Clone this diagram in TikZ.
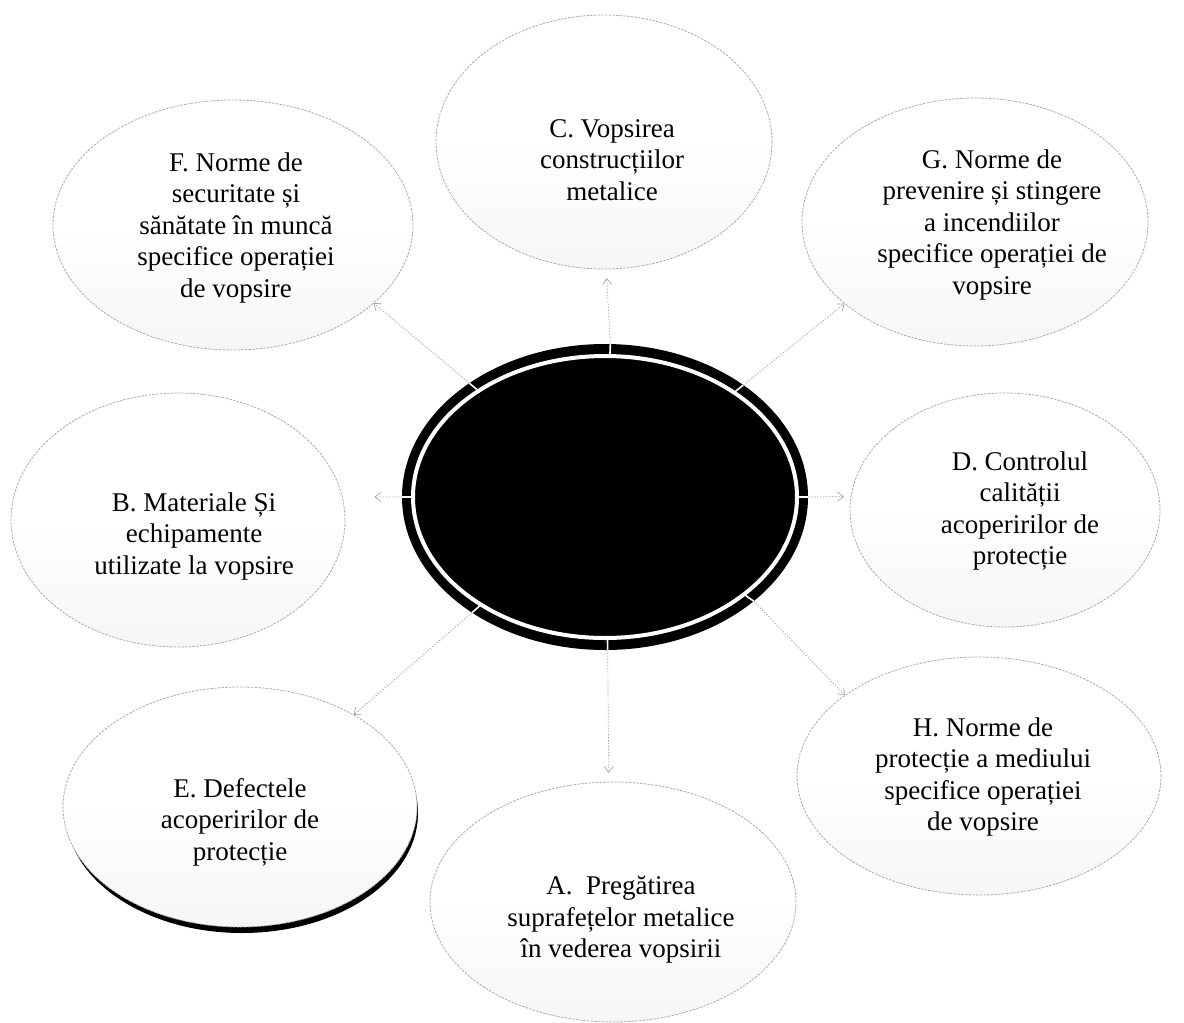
\documentclass[tikz,border=0pt]{standalone}
\usepackage{fontspec}
\setmainfont{Liberation Serif}
\usetikzlibrary{arrows.meta,calc,shapes.geometric}
\begin{document}
\begin{tikzpicture}[x=1pt,y=-1pt,
  bub/.style={ellipse, draw=gray!65, line width=0.8pt, dash pattern=on 2.5pt off 1.2pt,
    inner sep=0pt, outer sep=0pt, top color=white, bottom color=gray!7, middle color=white},
  lbl/.style={align=center, font=\fontsize{27}{31.5}\selectfont, inner sep=0pt},
  conn/.style={draw=gray!70, line width=0.7pt, dash pattern=on 1.5pt off 1.5pt,
    -{Straight Barb[length=6pt,width=9pt]}},
  tickw/.style={white, line width=1.6pt}]
\useasboundingbox (0,0) rectangle (1184,1023);
% shadow crescent of E
\fill[black] (242,813) ellipse [x radius=176, y radius=120];
% outer bubbles
\node[bub, minimum width=360pt, minimum height=250pt] (F) at (233,225) {};
\node[bub, minimum width=336pt, minimum height=254pt] (C) at (604,142) {};
\node[bub, minimum width=346pt, minimum height=248pt] (G) at (975,222) {};
\node[bub, minimum width=334pt, minimum height=254pt] (B) at (178,520) {};
\node[bub, minimum width=310pt, minimum height=234pt] (D) at (1005,510) {};
\node[bub, minimum width=354pt, minimum height=240pt] (E) at (240,807) {};
\node[bub, minimum width=364pt, minimum height=238pt] (H) at (979,776) {};
\node[bub, minimum width=366pt, minimum height=240pt] (A) at (613,902) {};
% labels
\node[lbl] (Ft) at (236,228) {F. Norme de\\securitate și\\sănătate în muncă\\specifice operației\\de vopsire};
\node[lbl] (Ct) at (612,160) {C. Vopsirea\\construcțiilor\\metalice};
\node[lbl] (Gt) at (992,225) {G. Norme de\\prevenire și stingere\\a incendiilor\\specifice operației de\\vopsire};
\node[lbl] (Bt) at (194,536) {B. Materiale Și\\echipamente\\utilizate la vopsire};
\node[lbl] (Dt) at (1020,511) {D. Controlul\\calității\\acoperirilor de\\protecție};
\node[lbl] (Et) at (240,822) {E. Defectele\\acoperirilor de\\protecție};
\node[lbl] (Ht) at (983,777) {H. Norme de\\protecție a mediului\\specifice operației\\de vopsire};
\node[lbl] (At) at (621,920) {A.\ \ Pregătirea\\suprafețelor metalice\\în vederea vopsirii};
% central ellipse
\node[ellipse, fill=black, minimum width=406pt, minimum height=306pt, inner sep=0pt, outer sep=0pt] (cen) at (605,497) {};
\draw[white, line width=4pt] (cen.center) ellipse [x radius=192, y radius=141];
% connectors
\draw[conn, shorten >=9pt] (cen.88) -- (C.-89);
\draw[conn] (cen.39) -- (G.212);
\draw[conn] (cen.140) -- (F.-29);
\draw[conn, shorten >=32pt] (cen.180) -- (B.8);
\draw[conn, shorten >=7pt] (cen.0) -- (D.175);
\draw[conn] (cen.221) -- (E.39);
\draw[conn, shorten >=9pt] (cen.-89) -- (A.92);
\draw[conn] (cen.-35) -- (H.149);
% white ticks across the black band
\foreach \a in {88,39,140,180,0,221,-89,-35}
  \draw[tickw] (cen.\a) -- ($(cen.\a)!13pt!(cen.center)$);
\end{tikzpicture}
\end{document}
